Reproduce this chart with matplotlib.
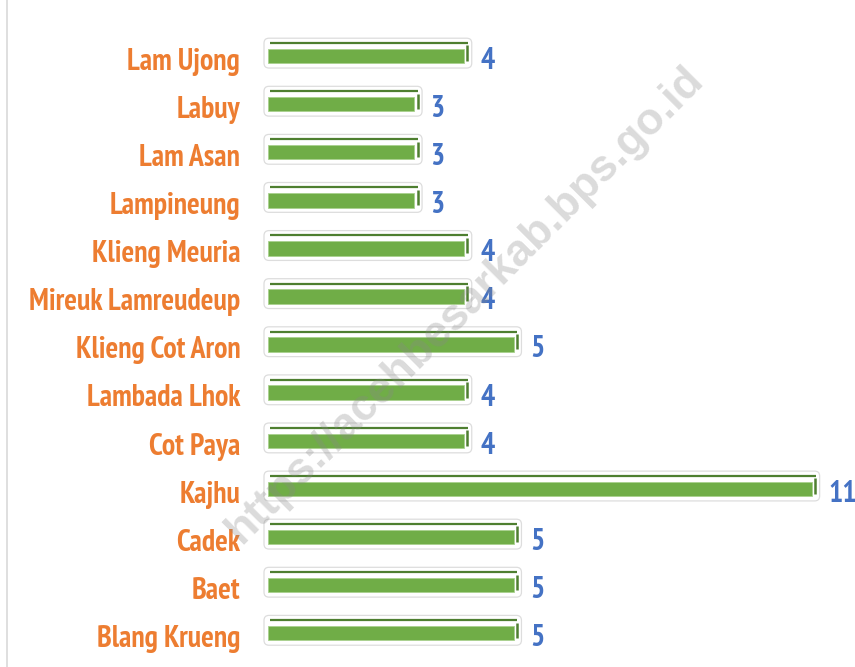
import matplotlib
matplotlib.use('Agg')
import matplotlib.pyplot as plt
from matplotlib.patches import FancyBboxPatch

villages = ['Lam Ujong', 'Labuy', 'Lam Asan', 'Lampineung', 'Klieng Meuria',
            'Mireuk Lamreudeup', 'Klieng Cot Aron', 'Lambada Lhok', 'Cot Paya',
            'Kajhu', 'Cadek', 'Baet', 'Blang Krueng']
counts = [4, 3, 3, 3, 4, 4, 5, 4, 4, 11, 5, 5, 5]

green = '#70AD47'
dark_green = '#4E7F30'
orange = '#ED7D31'
blue = '#4472C4'
label_font = ['PT Sans Narrow', 'Carlito', 'DejaVu Sans']

W, H = 855, 667
fig = plt.figure(figsize=(W / 100, H / 100), dpi=100)

# axes placed so that 0 -> x=265px, 1 unit = 49.7px; row 0 at y=56px, step 48.1px
px_x, px_y = 49.7, 48.1
x0, x1 = -0.3, 11.8
y_top, y_bot = -0.62, 12.62
left = 265 + x0 * px_x
width = (x1 - x0) * px_x
top = 56 + y_top * px_y
height = (y_bot - y_top) * px_y
ax = fig.add_axes([left / W, 1 - (top + height) / H, width / W, height / H])
ax.set_xlim(x0, x1)
ax.set_ylim(y_bot, y_top)
ax.axis('off')

ypos = list(range(len(villages)))

for y, v in zip(ypos, counts):
    # light rounded frame behind each bar
    frame = FancyBboxPatch((-0.02, y - 0.37), v + 0.18, 0.62,
                           boxstyle='round,pad=0,rounding_size=0.1',
                           mutation_aspect=px_x / px_y,
                           facecolor='white', edgecolor='#DDDDDD', lw=0.9, zorder=1)
    ax.add_patch(frame)
    # top dark edge
    ax.plot([0.1, v + 0.08], [y - 0.27, y - 0.27], color=dark_green, lw=1.6,
            solid_capstyle='butt', zorder=3)
    # right side stub
    ax.plot([v + 0.07, v + 0.07], [y - 0.22, y + 0.1], color=dark_green, lw=1.8,
            solid_capstyle='butt', zorder=3)
    ax.text(v + 0.33, y + 0.1, str(v), color=blue, fontsize=21.5, fontweight='bold',
            family=label_font, ha='left', va='center', zorder=4)

ax.barh(ypos, [c - 0.06 for c in counts], left=0.06, height=0.3, color=green,
        edgecolor='#A9D18E', lw=0.6, zorder=2)

for y, name in zip(ypos, villages):
    ax.text(-0.5, y + 0.12, name, color=orange, fontsize=21.5, fontweight='bold',
            family=label_font, ha='right', va='center', zorder=4)

# left border line
fig.add_artist(plt.Line2D([7 / W, 7 / W], [0, 1], color='#D9D9D9', lw=1.2))

# watermark
fig.text(465 / W, 1 - 305 / H, 'https://acehbesarkab.bps.go.id', rotation=45,
         ha='center', va='center', fontsize=32, fontweight='bold',
         family='Liberation Sans', color='#888888', alpha=0.3, zorder=10)

fig.savefig('out.png', dpi=100)
